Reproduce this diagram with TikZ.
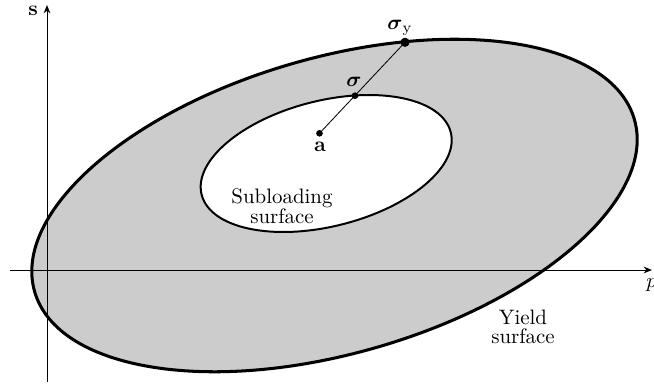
\documentclass[tikz,border=0pt]{standalone}
\usepackage{amsmath}
\usetikzlibrary{arrows.meta}
\begin{document}
\begin{tikzpicture}[x=0.4785pt,y=-0.4785pt,
  axisline/.style={line width=0.45pt,-{Stealth[length=4pt,width=3.2pt]}},
  yieldsurf/.style={line width=1.45pt, fill=black!20},
  subsurf/.style={line width=0.95pt, fill=white},
  dotsm/.style={circle,fill=black,inner sep=0pt,minimum size=3.2pt},
  dotbig/.style={circle,fill=black,inner sep=0pt,minimum size=4.4pt},
  lab/.style={inner sep=0pt},
  surflab/.style={inner sep=0pt,align=center}]
\useasboundingbox (0,0) rectangle (654,390);
% yield surface
\draw[yieldsurf, shift={(334.5,205.5)}, rotate=16] (0,0) ellipse [x radius=312, y radius=148];
% subloading surface
\draw[subsurf, shift={(326.2,163.5)}, rotate=14] (0,0) ellipse [x radius=128.4, y radius=62.9];
% axes
\coordinate (xs) at (10,270);
\coordinate (xe) at (652,270);
\coordinate (ys) at (47,382);
\coordinate (ye) at (47,5);
\draw[axisline] (xs) -- (xe);
\draw[axisline] (ys) -- (ye);
\node[lab, anchor=base west] (plab) at (646,287) {$p$};
\node[lab] (slab) at (33,11) {$\mathbf{s}$};
% points
\node[dotsm] (a) at (319.5,133.3) {};
\node[dotsm] (sig) at (355,95.7) {};
\node[dotbig] (sigy) at (405,42.3) {};
\draw[line width=0.4pt] (a.center) -- (sigy.center);
\node[lab] (alab) at (320,147) {$\mathbf{a}$};
\node[lab] (siglab) at (354,82) {$\boldsymbol{\sigma}$};
\node[lab] (sigylab) at (400,28) {$\boldsymbol{\sigma}_{\mathrm{y}}$};
% surface labels
\node[surflab] (sublab) at (282,206) {Subloading\\[-2.6pt]surface};
\node[surflab] (yieldlab) at (523,327) {Yield\\[-2.6pt]surface};
\end{tikzpicture}
\end{document}
